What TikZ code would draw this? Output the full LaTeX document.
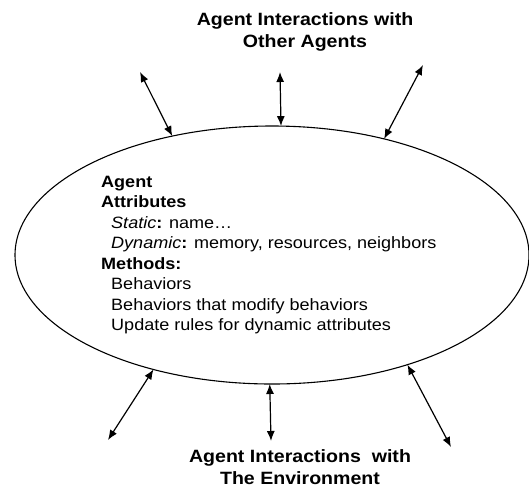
\documentclass[tikz,border=0pt]{standalone}
\usepackage{fontspec}
\setmainfont[FakeStretch=1.1]{Liberation Sans}
\usetikzlibrary{shapes.geometric}
\usetikzlibrary{arrows.meta}
\usetikzlibrary{positioning}

\tikzset{
  agentbody/.style={ellipse, draw, line width=1.1pt, inner sep=0pt, outer sep=0pt,
    minimum width=514pt, minimum height=258pt},
  link/.style={{Latex[length=10pt,width=8pt]}-{Latex[length=10pt,width=8pt]}, line width=1.2pt},
  heading/.style={align=center, font=\fontsize{17.8}{22}\selectfont\bfseries},
  body/.style={align=left, anchor=north west, inner sep=0pt,
    font=\fontsize{16.4}{20.5}\selectfont}
}

\begin{document}
\begin{tikzpicture}[x=1pt, y=-1pt]
            \useasboundingbox (0,0) rectangle (529,491);

            % Agent
            \node[agentbody] (agent) at (272,255) {};
            \node[body] (attrs) at (101,176) {%
              \textbf{Agent}\\
              \textbf{Attributes}\\
              \hspace*{10pt}\textit{Static}\textbf{:} name\ldots\\
              \hspace*{10pt}\textit{Dynamic}\textbf{:} memory, resources, neighbors\\
              \textbf{Methods:}\\
              \hspace*{10pt}Behaviors\\
              \hspace*{10pt}Behaviors that modify behaviors\\
              \hspace*{10pt}Update rules for dynamic attributes};

            % Headings
            \node[heading] (others) at (305,32) {Agent Interactions with\\Other Agents};
            \node[heading] (env) at (300,467) {Agent Interactions~ with\\The Environment};

            % Free ends
            \coordinate (o1) at (140,72);
            \coordinate (o2) at (280,72);
            \coordinate (o3) at (423,65);
            \coordinate (e1) at (108,440);
            \coordinate (e2) at (271,441);
            \coordinate (e3) at (451,447);

            % Interactions with other agents
            \draw[link] (o1) -- (agent.130.9);
            \draw[link] (o2) -- (agent.86.5);
            \draw[link] (o3) -- (agent.46.2);

            % Interactions with the environment
            \draw[link] (e1) -- (agent.224.5);
            \draw[link] (e2) -- (agent.269.6);
            \draw[link] (e3) -- (agent.321.2);

\end{tikzpicture}
\end{document}
